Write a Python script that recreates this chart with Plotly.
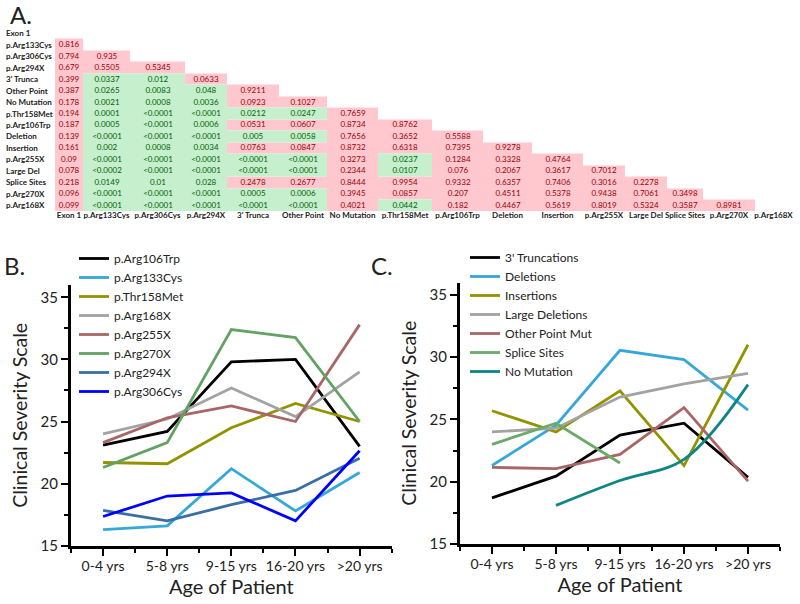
import plotly.graph_objects as go

# ---------------- DATA ----------------
table_labels = ["Exon 1", "p.Arg133Cys", "p.Arg306Cys", "p.Arg294X", "3' Trunca",
                "Other Point", "No Mutation", "p.Thr158Met", "p.Arg106Trp", "Deletion",
                "Insertion", "p.Arg255X", "Large Del", "Splice Sites", "p.Arg270X",
                "p.Arg168X"]

pvalues = [
    [],
    ["0.816"],
    ["0.794", "0.935"],
    ["0.679", "0.5505", "0.5345"],
    ["0.399", "0.0337", "0.012", "0.0633"],
    ["0.387", "0.0265", "0.0083", "0.048", "0.9211"],
    ["0.178", "0.0021", "0.0008", "0.0036", "0.0923", "0.1027"],
    ["0.194", "0.0001", "<0.0001", "<0.0001", "0.0212", "0.0247", "0.7659"],
    ["0.187", "0.0005", "<0.0001", "0.0006", "0.0531", "0.0607", "0.8734", "0.8762"],
    ["0.139", "<0.0001", "<0.0001", "<0.0001", "0.005", "0.0058", "0.7656", "0.3652", "0.5588"],
    ["0.161", "0.002", "0.0008", "0.0034", "0.0763", "0.0847", "0.8732", "0.6318", "0.7395", "0.9278"],
    ["0.09", "<0.0001", "<0.0001", "<0.0001", "<0.0001", "<0.0001", "0.3273", "0.0237", "0.1284", "0.3328", "0.4764"],
    ["0.078", "<0.0002", "<0.0001", "<0.0001", "<0.0001", "<0.0001", "0.2344", "0.0107", "0.076", "0.2067", "0.3617", "0.7012"],
    ["0.218", "0.0149", "0.01", "0.028", "0.2478", "0.2677", "0.8444", "0.9954", "0.9332", "0.6357", "0.7406", "0.3016", "0.2278"],
    ["0.096", "<0.0001", "<0.0001", "<0.0001", "0.0005", "0.0006", "0.3945", "0.0857", "0.207", "0.4511", "0.5378", "0.9438", "0.7061", "0.3498"],
    ["0.099", "<0.0001", "<0.0001", "<0.0001", "<0.0001", "<0.0001", "0.4021", "0.0442", "0.182", "0.4467", "0.5619", "0.8019", "0.5324", "0.3587", "0.8981"],
]

ages = ["0-4 yrs", "5-8 yrs", "9-15 yrs", "16-20 yrs", ">20 yrs"]

# Panel B
b_names = ["p.Arg106Trp", "p.Arg133Cys", "p.Thr158Met", "p.Arg168X",
           "p.Arg255X", "p.Arg270X", "p.Arg294X", "p.Arg306Cys"]
b_arg106trp = [23.1, 24.2, 29.8, 30.0, 23.0]
b_arg133cys = [16.3, 16.6, 21.2, 17.8, 20.9]
b_thr158met = [21.7, 21.6, 24.5, 26.45, 25.0]
b_arg168x = [24.0, 25.2, 27.7, 25.4, 29.0]
b_arg255x = [23.3, 25.3, 26.25, 25.0, 32.8]
b_arg270x = [21.3, 23.3, 32.4, 31.75, 25.0]
b_arg294x = [17.85, 17.0, 18.3, 19.45, 22.05]
b_arg306cys = [17.35, 19.0, 19.25, 17.0, 22.65]
b_values = [b_arg106trp, b_arg133cys, b_thr158met, b_arg168x,
            b_arg255x, b_arg270x, b_arg294x, b_arg306cys]

# Panel C
c_names = ["3' Truncations", "Deletions", "Insertions", "Large Deletions",
           "Other Point Mut", "Splice Sites", "No Mutation"]
c_truncations = [18.7, 20.45, 23.75, 24.7, 20.35]
c_deletions = [21.3, 24.55, 30.55, 29.8, 25.75]
c_insertions = [25.7, 24.0, 27.3, 21.3, 31.0]
c_large_deletions = [24.0, 24.3, 26.8, 27.85, 28.7]
c_other_point = [21.15, 21.05, 22.2, 25.95, 20.05]
c_splice_sites = [23.0, 24.7, 21.5, None, None]
c_no_mutation = [None, 18.1, 20.1, 21.8, 27.8]
c_values = [c_truncations, c_deletions, c_insertions, c_large_deletions,
            c_other_point, c_splice_sites, c_no_mutation]

# ---------------- STYLE ----------------
FONT = "Lato"
PINK, PINK_TXT = "#FFC7CE", "#9C0006"
GREEN, GREEN_TXT = "#C6EFCE", "#006100"
col_widths = [28, 47, 55, 42, 52, 48, 51, 54, 51, 49, 51, 42, 42, 36, 52, 37]

b_colors = ["#000000", "#35A8D8", "#939300", "#A3A3A3",
            "#A86666", "#62A262", "#3A6EA5", "#0000FF"]
c_colors = ["#000000", "#35A8D8", "#939300", "#A3A3A3",
            "#A86666", "#6AAA6A", "#108585"]
c_shapes = ["linear"] * 6 + ["spline"]

W, H = 800, 604
def px_x(p):
    return p / W
def px_y(p):
    return 1 - p / H

fig = go.Figure()

# ---------------- TABLE (panel A) ----------------
n = len(table_labels)
edges = [0]
for w in col_widths:
    edges.append(edges[-1] + w)
centers = [(edges[k] + edges[k + 1]) / 2 for k in range(n)]

z_p = [[None] * n for _ in range(n)]
z_g = [[None] * n for _ in range(n)]
t_p = [[""] * n for _ in range(n)]
t_g = [[""] * n for _ in range(n)]
for i, row in enumerate(pvalues):
    for j, v in enumerate(row):
        sig = v.startswith("<") or float(v) < 0.05
        if sig:
            z_g[i][j] = 1
            t_g[i][j] = v
        else:
            z_p[i][j] = 1
            t_p[i][j] = v

for z, t, fill, tc in [(z_p, t_p, PINK, PINK_TXT), (z_g, t_g, GREEN, GREEN_TXT)]:
    fig.add_trace(go.Heatmap(
        z=z, x=edges, y=list(range(n)), text=t, texttemplate="%{text}",
        textfont=dict(family=FONT, size=8, color=tc),
        colorscale=[[0, fill], [1, fill]], zmin=0, zmax=1, showscale=False,
        hoverinfo="skip", xaxis="x3", yaxis="y3", showlegend=False))

annotations = []
for i, lab in enumerate(table_labels):
    annotations.append(dict(
        text=lab, x=px_x(4), xref="paper", xanchor="left", y=i, yref="y3",
        yanchor="middle", showarrow=False,
        font=dict(family=FONT, size=8, color="#222222", weight="bold")))

# ---------------- PANEL B ----------------
xidx = list(range(len(ages)))
for name, vals, col in zip(b_names, b_values, b_colors):
    fig.add_trace(go.Scatter(
        x=xidx, y=vals, mode="lines", name=name,
        line=dict(color=col, width=2.8), xaxis="x", yaxis="y", legend="legend"))

# ---------------- PANEL C ----------------
for name, vals, col, shp in zip(c_names, c_values, c_colors, c_shapes):
    fig.add_trace(go.Scatter(
        x=xidx, y=vals, mode="lines", name=name,
        line=dict(color=col, width=2.8, shape=shp), xaxis="x2", yaxis="y2",
        legend="legend2"))

def xaxis_style(dom, anchor):
    return dict(
        domain=dom, anchor=anchor, range=[-0.5, 4.5], tickmode="array",
        tickvals=xidx, ticktext=ages, ticks="outside", ticklen=7, tickwidth=2,
        tickcolor="black", showline=True, linecolor="black", linewidth=3,
        showgrid=False, zeroline=False, automargin=False, ticklabelstandoff=-2,
        minor=dict(tickmode="array", tickvals=[-0.5, 0.5, 1.5, 2.5, 3.5, 4.5],
                   ticks="outside", ticklen=4, tickwidth=2, tickcolor="black"),
        tickfont=dict(family=FONT, size=14, color="#222222"),
        title=dict(text="Age of Patient", standoff=6,
                   font=dict(family=FONT, size=20, color="#222222")))

def yaxis_style(dom, anchor):
    return dict(
        domain=dom, anchor=anchor, range=[15, 36], tickmode="linear", tick0=0,
        dtick=5, ticks="outside", ticklen=7, tickwidth=2, tickcolor="black",
        showline=True, linecolor="black", linewidth=3, showgrid=False,
        zeroline=False, automargin=False,
        minor=dict(tickmode="linear", tick0=2.5, dtick=5, ticks="outside",
                   ticklen=4, tickwidth=2, tickcolor="black"),
        tickfont=dict(family=FONT, size=15, color="#222222"),
        title=dict(text="Clinical Severity Scale", standoff=8,
                   font=dict(family=FONT, size=19.5, color="#222222")))

legend_common = dict(bgcolor="rgba(0,0,0,0)", borderwidth=0, tracegroupgap=0,
                     yanchor="top", xanchor="left", itemwidth=30,
                     font=dict(family=FONT, size=12, color="#222222"))

annotations += [
    dict(text="A.", x=px_x(8), y=px_y(15), xref="paper", yref="paper",
         xanchor="left", yanchor="middle", showarrow=False,
         font=dict(family=FONT, size=24, color="#222222")),
    dict(text="B.", x=px_x(2), y=px_y(266), xref="paper", yref="paper",
         xanchor="left", yanchor="middle", showarrow=False,
         font=dict(family=FONT, size=24, color="#222222")),
    dict(text="C.", x=px_x(369), y=px_y(266), xref="paper", yref="paper",
         xanchor="left", yanchor="middle", showarrow=False,
         font=dict(family=FONT, size=24, color="#222222")),
]

fig.update_layout(
    width=W, height=H, margin=dict(l=0, r=0, t=0, b=0),
    paper_bgcolor="white", plot_bgcolor="white",
    xaxis=xaxis_style([px_x(71), px_x(391.7)], "y"),
    yaxis=yaxis_style([px_y(545.7), px_y(284.9)], "x"),
    xaxis2=xaxis_style([px_x(460), px_x(780)], "y2"),
    yaxis2=yaxis_style([px_y(544), px_y(282.5)], "x2"),
    xaxis3=dict(domain=[px_x(55), px_x(55 + edges[-1])], anchor="y3",
                range=[0, edges[-1]], tickmode="array", tickvals=centers,
                ticktext=table_labels, ticks="", tickangle=0, showline=False,
                showgrid=False, zeroline=False, automargin=False,
                ticklabelstandoff=-2,
                tickfont=dict(family=FONT, size=8, color="#222222", weight="bold")),
    yaxis3=dict(domain=[px_y(211), px_y(27.5)], anchor="x3", range=[n - 0.5, -0.5],
                showticklabels=False, ticks="", showline=False, showgrid=False,
                zeroline=False, automargin=False),
    legend=dict(x=px_x(74), y=px_y(244), **legend_common),
    legend2=dict(x=px_x(465), y=px_y(243), **legend_common),
    annotations=annotations,
    font=dict(family=FONT),
)

fig.write_html("out.html", config={"displayModeBar": False},
               post_script="document.body.style.margin='0px';")
